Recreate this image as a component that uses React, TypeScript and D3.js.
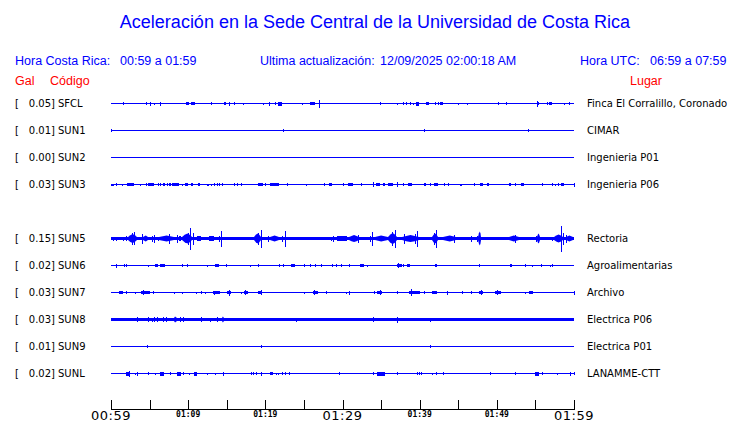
import React from "react";
import * as d3 from "d3";

// [minute since 00:59, amplitude, duration in minutes (optional)]
type Ev = [number, number, number?];

const title = "Aceleración en la Sede Central de la Universidad de Costa Rica";
const localRange = "00:59 a 01:59";
const utcRange = "06:59 a 07:59";
const updated = "12/09/2025 02:00:18 AM";

const stationCodes = ["SFCL", "SUN1", "SUN2", "SUN3", "SUN5", "SUN6", "SUN7", "SUN8", "SUN9", "SUNL"];
const stationSlots = [0, 1, 2, 3, 5, 6, 7, 8, 9, 10];
const stationPeaks = ["0.05", "0.01", "0.00", "0.03", "0.15", "0.02", "0.03", "0.03", "0.01", "0.02"];
const stationPlaces = [
  "Finca El Corralillo, Coronado",
  "CIMAR",
  "Ingenieria P01",
  "Ingenieria P06",
  "Rectoria",
  "Agroalimentarias",
  "Archivo",
  "Electrica P06",
  "Electrica P01",
  "LANAMME-CTT",
];
const stationNoise = [0.5, 0.5, 0.5, 0.5, 1.5, 0.5, 0.5, 1.5, 0.5, 0.5];

const sfcl: Ev[] = [
  [1.6, 1.2], [4.5, 1.5], [5.1, 2], [5.6, 1], [6.4, 2], [9.9, 1.7, 0.4], [10.6, 1.7, 0.45],
  [13.0, 1.5], [14.6, 1.5], [14.8, 1.5], [15.3, 2], [15.9, 1.5], [17.1, 1], [19.7, 1],
  [20.5, 2], [21.3, 1.5], [21.9, 2, 0.4], [24.7, 1], [26.1, 1.7, 0.7], [26.9, 4], [34.9, 1.5],
  [37.1, 1], [37.8, 1.5], [38.2, 1.5], [38.8, 1.5], [39.2, 1], [39.7, 2, 0.3], [41.0, 1.7, 0.3],
  [42.0, 1.5], [42.4, 1.5], [42.8, 1.7, 0.4], [45.0, 1], [46.1, 1], [47.6, 0.8], [50.2, 1.5],
  [51.2, 1.5], [55.2, 3], [55.3, 1.5], [56.5, 1.5], [57.0, 1.7, 0.4], [58.7, 1], [59.3, 1.5],
];
const sun1: Ev[] = [[0.0, 1.5], [22.3, 1.5], [40.6, 1.5], [54.0, 1.2], [57.5, 0.8]];
const sun2: Ev[] = [];
const sun3: Ev[] = [
  [0.2, 1, 0.5], [0.6, 1.5], [1.4, 1], [2.5, 1.5, 0.9], [3.7, 1], [4.6, 1.5, 0.2], [5.2, 1.7, 0.7],
  [6.1, 1.5], [6.4, 1.5], [6.7, 1.5], [6.9, 1.5], [7.2, 1.5], [7.5, 1.5], [7.7, 1.5], [8.3, 1.7, 0.9],
  [9.2, 1], [9.8, 1.5, 0.3], [10.5, 1.7, 0.35], [11.4, 1.7, 0.3], [12.4, 1], [12.6, 1], [12.9, 1],
  [13.4, 1.5], [13.7, 1.5], [14.0, 1.5], [14.4, 1.5], [15.9, 1.5], [16.3, 1.5], [16.8, 1.5],
  [19.35, 1.7, 0.7], [20.0, 1.5], [21.2, 1.7, 1.1], [22.8, 1.5], [25.3, 1], [25.9, 0.5], [27.6, 1.5],
  [28.4, 1.7, 0.4], [30.1, 1.5], [31.0, 1.7, 0.6], [32.4, 1.5], [34.0, 2.5], [34.6, 1.7, 0.4],
  [35.4, 1.5, 0.3], [36.2, 1.7, 0.6], [37.1, 2.5], [37.9, 1.5], [38.8, 1.7, 0.5], [40.0, 0.5],
  [40.7, 1.5, 0.3], [41.3, 1.5], [42.1, 1.7, 0.5], [43.2, 1.5], [43.7, 1.5], [45.4, 1, 0.3],
  [47.0, 1.5], [48.0, 1.5, 0.4], [48.7, 1.5], [48.9, 1.5], [49.5, 0.5], [50.8, 0.5], [51.7, 1.5, 0.3],
  [52.3, 1.5], [53.3, 1.7, 0.4], [55.8, 1.5], [57.1, 1.5], [57.5, 1], [57.9, 1.5], [58.5, 1.7, 0.4],
  [60.0, 2],
];
const sun5: Ev[] = [
  [0.3, 2], [0.7, 2], [1.2, 1.5], [1.6, 2], [1.9, 2.5], [2.8, 4.5, 1.1], [2.7, 6], [3.0, 6.5], [4.0, 5],
  [4.5, 3, 0.6], [5.3, 3], [5.6, 4], [6.1, 2], [7.2, 3, 2], [7.5, 5], [8.6, 4], [8.9, 2.5, 0.3],
  [9.9, 5, 1.3], [10.3, 11], [10.0, 6], [10.6, 6], [11.4, 2.5, 0.5], [13.0, 2.5, 0.6], [14.2, 8],
  [14.0, 3], [14.8, 1.5], [16.4, 1.5], [17.9, 1.5], [19.0, 5, 1.0], [19.4, 9], [19.1, 6], [20.4, 3],
  [21.2, 3, 1.2], [22.5, 8], [22.2, 3], [27.2, 1.5], [28.5, 2], [28.8, 3], [29.9, 2.5, 1.3],
  [31.5, 3.5, 1.2], [32.0, 4], [33.8, 7], [33.6, 3], [35.0, 3, 1.7], [36.5, 5.5, 1.1], [36.8, 9],
  [36.4, 7], [38.8, 3.5, 2.2], [38.0, 5], [39.6, 8], [39.4, 5], [42.0, 5, 0.7], [42.1, 9], [41.8, 6],
  [43.9, 3, 1.7], [44.4, 4], [45.4, 1.5], [46.7, 3], [47.8, 7, 0.4], [47.4, 3], [50.0, 1.5],
  [52.2, 3, 1.3], [52.4, 4], [53.9, 1.5], [54.5, 1.5], [55.4, 5, 0.4], [55.1, 3], [57.1, 2],
  [58.0, 4, 1.2], [58.3, 13], [58.6, 6], [59.4, 3, 0.9], [59.0, 4],
];
const sun6: Ev[] = [
  [0.7, 2], [1.7, 1.5], [2.0, 1.5], [4.8, 1], [5.9, 1.5, 0.4], [6.7, 1.5, 0.6], [9.2, 1.5], [9.8, 1.5],
  [12.5, 1], [13.7, 1.5, 0.5], [14.9, 1.5], [18.0, 1], [19.1, 1.5], [21.8, 1.5], [22.3, 1.5],
  [23.6, 1.5, 0.5], [25.0, 1.5], [25.8, 1.5], [26.4, 1.5], [27.2, 1.5], [28.7, 1.5], [29.2, 1.5],
  [29.8, 1.5], [30.8, 1.5], [32.5, 1.7, 0.5], [33.2, 1], [37.4, 1.7, 0.6], [37.2, 2.5], [37.9, 1.5],
  [38.5, 1.7, 0.4], [42.1, 1.7, 0.3], [47.7, 1.5], [51.8, 1.7, 0.3], [53.7, 1.5], [54.6, 1],
  [55.7, 1.5], [56.9, 1], [57.2, 1.5],
];
const sun7: Ev[] = [
  [1.3, 1.7, 0.6], [1.9, 1.5], [3.1, 1], [4.5, 1.7, 1.1], [4.1, 2.5], [5.5, 1.5], [8.2, 1], [9.2, 1],
  [11.0, 1], [11.6, 1.5], [12.2, 1], [13.7, 1.7, 0.9], [13.4, 2], [15.3, 1.7, 0.6], [15.3, 3],
  [16.8, 1], [17.5, 1.7, 0.6], [17.4, 2.5], [19.3, 1.7, 0.6], [19.5, 2.5], [20.7, 0.5], [25.0, 1],
  [26.5, 1.7, 0.7], [26.3, 2.5], [27.9, 1.5], [30.5, 1], [30.8, 2], [34.1, 1.5], [34.8, 1.7, 0.6],
  [34.8, 2.5], [37.1, 1.5], [38.1, 0.5], [39.3, 1.5, 1.4], [38.9, 3.5], [40.5, 1.5], [41.9, 1.7, 0.6],
  [43.6, 2], [45.5, 1.5], [46.7, 1.5], [48.0, 1.5, 0.5], [48.0, 2.5], [50.2, 1.7, 0.8], [50.0, 2.5],
  [51.5, 0.5], [53.6, 1], [54.4, 1.7, 0.5], [60.0, 2],
];
const sun8: Ev[] = [
  [3.4, 2.5], [4.8, 2.5], [5.3, 2], [5.6, 2.5], [5.9, 2.5], [6.8, 2.5], [7.1, 2.5], [8.3, 3, 0.4],
  [9.0, 2.5], [9.3, 2.5], [11.7, 2.5], [12.8, 2], [13.8, 2.5], [14.5, 3, 0.3], [19.5, 1.8], [24.0, 2],
  [25.2, 1.8], [34.0, 2.5], [37.1, 3], [41.3, 2], [43.7, 1.8], [52.7, 1.5], [58.8, 1.5],
];
const sun9: Ev[] = [[4.7, 1.5], [19.5, 1.5], [41.4, 1.5]];
const sunl: Ev[] = [
  [2.2, 2, 0.4], [2.3, 3], [3.1, 1], [3.4, 2], [4.8, 1.5], [5.7, 1], [6.6, 2, 0.6], [7.6, 1.5],
  [8.8, 2, 0.6], [9.3, 1.5], [10.1, 1], [10.9, 2, 0.4], [12.5, 1], [13.5, 1], [14.5, 2], [18.1, 1.5],
  [18.4, 1.5], [18.8, 1.5], [19.4, 2], [20.8, 1.7, 0.5], [21.4, 1], [21.7, 1], [22.2, 1.5], [22.5, 1.5],
  [23.1, 1.5], [25.9, 0.5], [29.6, 1.5], [34.0, 1.5], [35.0, 2, 1.1], [37.1, 1.5], [39.6, 1.5],
  [39.9, 1.5], [40.2, 1.5], [41.6, 1], [42.1, 1.5], [43.0, 1.5], [44.4, 0.7], [49.1, 1.5], [52.4, 1.5],
  [55.2, 2, 0.4], [55.8, 1.5], [57.8, 1], [59.5, 2], [60.0, 1.5],
];
const stationEvents = [sfcl, sun1, sun2, sun3, sun5, sun6, sun7, sun8, sun9, sunl];

const tickMinutes = d3.range(0, 61, 5);
const tickLabels = ["00:59", "", "01:09", "", "01:19", "", "01:29", "", "01:39", "", "01:49", "", "01:59"];
const majorTicks = [0, 30, 60];

const BLUE = "#0000ff";
const RED = "#ff0000";
const SANS = "'Liberation Sans', Arial, sans-serif";
const DJV = "'DejaVu Sans', sans-serif";

export default function App() {
  const x = d3.scaleLinear().domain([0, 60]).range([111, 574]);
  const y = d3.scalePoint<number>().domain(d3.range(11)).range([103.5, 373.5]);
  const amp = d3.scaleLinear().domain([0, 1]).range([0, 1]);
  const axisY = 409.5;

  return (
    <svg width={740} height={423} style={{ position: "absolute", left: 0, top: 0, background: "#fff" }}>
      <text x={375} y={28} textAnchor="middle" fontFamily={SANS} fontSize={18} fill={BLUE}>{title}</text>

      <g fontFamily={SANS} fontSize={12.5} fill={BLUE}>
        <text x={15} y={65}>Hora Costa Rica:</text>
        <text x={120} y={65}>{localRange}</text>
        <text x={260} y={65}>Ultima actualización:</text>
        <text x={380} y={65}>{updated}</text>
        <text x={580} y={65}>Hora UTC:</text>
        <text x={650} y={65}>{utcRange}</text>
      </g>
      <g fontFamily={SANS} fontSize={12.5} fill={RED}>
        <text x={15} y={85}>Gal</text>
        <text x={50} y={85}>Código</text>
        <text x={630} y={85}>Lugar</text>
      </g>

      {stationCodes.map((code, i) => {
        const cy = y(stationSlots[i]) as number;
        const noise = amp(stationNoise[i]);
        return (
          <g key={code}>
            <g fontFamily={DJV} fontSize={10} fill="#000">
              <text x={15} y={cy + 3.5}>[</text>
              <text x={55} y={cy + 3.5} textAnchor="end">{stationPeaks[i]}]</text>
              <text x={58} y={cy + 3.5}>{code}</text>
              <text x={587} y={cy + 3.5}>{stationPlaces[i]}</text>
            </g>
            <g fill={BLUE} shapeRendering="crispEdges">
              <rect x={x(0)} y={cy - noise} width={x(60) - x(0)} height={noise * 2} />
              {stationEvents[i].map(([m, a, d = 0], j) => {
                const x0 = Math.round(x(m - d / 2));
                const x1 = Math.round(x(m + d / 2));
                const h = Math.max(amp(a), noise);
                if (d > 0 && a >= 3) {
                  // wider bursts drawn as a spindle-shaped envelope
                  const xm = x(m);
                  const pts = [
                    [x0, cy - noise], [(x0 + xm) / 2, cy - h * 0.75], [xm, cy - h],
                    [(xm + x1) / 2, cy - h * 0.75], [x1, cy - noise], [x1, cy + noise],
                    [(xm + x1) / 2, cy + h * 0.75], [xm, cy + h], [(x0 + xm) / 2, cy + h * 0.75],
                    [x0, cy + noise],
                  ];
                  return <polygon key={j} points={pts.map((p) => p.join(",")).join(" ")} shapeRendering="auto" />;
                }
                return <rect key={j} x={x0} y={cy - h} width={Math.max(1, x1 - x0)} height={h * 2} />;
              })}
            </g>
          </g>
        );
      })}

      <g stroke="#000" shapeRendering="crispEdges">
        <line x1={x(0)} x2={x(60)} y1={axisY} y2={axisY} />
        {tickMinutes.map((m) => (
          <line key={m} x1={Math.round(x(m)) + 0.5} x2={Math.round(x(m)) + 0.5} y1={400} y2={axisY} />
        ))}
      </g>
      {tickMinutes.map((m, i) =>
        tickLabels[i] ? (
          majorTicks.includes(m) ? (
            <text key={m} x={x(m)} y={420} textAnchor="middle" fontFamily={DJV} fontSize={13} letterSpacing={0.5} fill="#000">
              {tickLabels[i]}
            </text>
          ) : (
            <text key={m} x={x(m)} y={417} textAnchor="middle" fontFamily="'DejaVu Sans Mono', monospace" fontSize={8} fontWeight="bold" fill="#000">
              {tickLabels[i]}
            </text>
          )
        ) : null
      )}
    </svg>
  );
}
